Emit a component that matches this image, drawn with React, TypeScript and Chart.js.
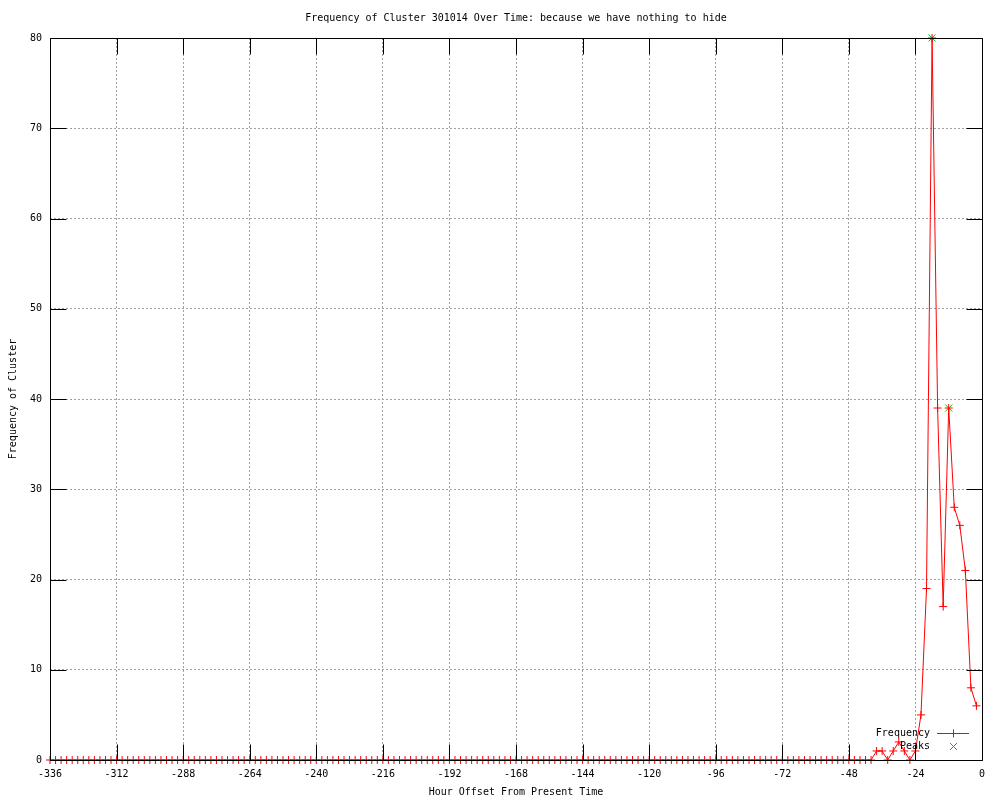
import React, { useEffect, useRef } from 'react';
import { Chart, registerables } from 'chart.js';

Chart.register(...registerables);

const TITLE = 'Frequency of Cluster 301014 Over Time: because we have nothing to hide';
const X_TITLE = 'Hour Offset From Present Time';
const Y_TITLE = 'Frequency of Cluster';

const hours = [
  -336, -334, -332, -330, -328, -326, -324, -322, -320, -318, -316, -314,
  -312, -310, -308, -306, -304, -302, -300, -298, -296, -294, -292, -290,
  -288, -286, -284, -282, -280, -278, -276, -274, -272, -270, -268, -266,
  -264, -262, -260, -258, -256, -254, -252, -250, -248, -246, -244, -242,
  -240, -238, -236, -234, -232, -230, -228, -226, -224, -222, -220, -218,
  -216, -214, -212, -210, -208, -206, -204, -202, -200, -198, -196, -194,
  -192, -190, -188, -186, -184, -182, -180, -178, -176, -174, -172, -170,
  -168, -166, -164, -162, -160, -158, -156, -154, -152, -150, -148, -146,
  -144, -142, -140, -138, -136, -134, -132, -130, -128, -126, -124, -122,
  -120, -118, -116, -114, -112, -110, -108, -106, -104, -102, -100, -98,
  -96, -94, -92, -90, -88, -86, -84, -82, -80, -78, -76, -74,
  -72, -70, -68, -66, -64, -62, -60, -58, -56, -54, -52, -50,
  -48, -46, -44, -42, -40, -38, -36, -34, -32, -30, -28, -26,
  -24, -22, -20, -18, -16, -14, -12, -10, -8, -6, -4, -2,
];

const frequency = [
  0, 0, 0, 0, 0, 0, 0, 0, 0, 0, 0, 0,
  0, 0, 0, 0, 0, 0, 0, 0, 0, 0, 0, 0,
  0, 0, 0, 0, 0, 0, 0, 0, 0, 0, 0, 0,
  0, 0, 0, 0, 0, 0, 0, 0, 0, 0, 0, 0,
  0, 0, 0, 0, 0, 0, 0, 0, 0, 0, 0, 0,
  0, 0, 0, 0, 0, 0, 0, 0, 0, 0, 0, 0,
  0, 0, 0, 0, 0, 0, 0, 0, 0, 0, 0, 0,
  0, 0, 0, 0, 0, 0, 0, 0, 0, 0, 0, 0,
  0, 0, 0, 0, 0, 0, 0, 0, 0, 0, 0, 0,
  0, 0, 0, 0, 0, 0, 0, 0, 0, 0, 0, 0,
  0, 0, 0, 0, 0, 0, 0, 0, 0, 0, 0, 0,
  0, 0, 0, 0, 0, 0, 0, 0, 0, 0, 0, 0,
  0, 0, 0, 0, 0, 1, 1, 0, 1, 2, 1, 0,
  1, 5, 19, 80, 39, 17, 39, 28, 26, 21, 8, 6,
];

const peakHours = [-18, -12];
const peakValues = [80, 39];

const X_MIN = -336;
const X_MAX = 0;
const X_STEP = 24;
const Y_MIN = 0;
const Y_MAX = 80;
const Y_STEP = 10;

const FAMILY = '"DejaVu Sans Mono", "Liberation Mono", monospace';
const FONT = { family: FAMILY, size: 10 };
const RED = 'rgb(255, 0, 0)';
const GREEN = 'rgb(0, 192, 0)';
const GRID = '#a0a0a0';

const crisp = (v: number) => Math.round(v) + 0.5;

const framePlugin = {
  id: 'gnuplotFrame',
  afterDatasetsDraw(chart: any) {
    const { ctx, chartArea, scales } = chart;
    const { left, right, top, bottom } = chartArea;
    const xs = scales.x;
    const ys = scales.y;
    const TL = 16;
    ctx.save();
    ctx.setLineDash([]);
    ctx.strokeStyle = '#000000';
    ctx.lineWidth = 1;
    const L = crisp(left);
    const R = crisp(right);
    const T = crisp(top);
    const B = crisp(bottom);
    ctx.beginPath();
    ctx.rect(L, T, R - L, B - T);
    for (const t of xs.ticks) {
      const px = crisp(xs.getPixelForValue(t.value));
      ctx.moveTo(px, B);
      ctx.lineTo(px, B - TL);
      ctx.moveTo(px, T);
      ctx.lineTo(px, T + TL);
    }
    for (const t of ys.ticks) {
      const py = crisp(ys.getPixelForValue(t.value));
      ctx.moveTo(L, py);
      ctx.lineTo(L + TL, py);
      ctx.moveTo(R, py);
      ctx.lineTo(R - TL, py);
    }
    ctx.stroke();
    ctx.restore();
  },
  afterDraw(chart: any) {
    const { ctx, chartArea } = chart;
    const { left, right, bottom } = chartArea;
    const labels = chart.data.datasets.map((d: any) => d.label);
    const y1 = Math.round(bottom - 27) + 0.5;
    const y2 = Math.round(bottom - 14) + 0.5;
    const textX = right - 52;
    const markX = Math.round(right - 29) + 0.5;

    ctx.save();
    ctx.setLineDash([]);
    ctx.font = `10px ${FAMILY}`;
    ctx.fillStyle = '#000000';
    ctx.textAlign = 'right';
    ctx.textBaseline = 'middle';
    ctx.fillText(labels[0], textX, y1);
    ctx.fillText(labels[1], textX, y2);
    ctx.textAlign = 'center';
    ctx.fillText(TITLE, (left + right) / 2, 18);
    ctx.restore();

    ctx.save();
    ctx.setLineDash([]);
    ctx.lineWidth = 1;
    ctx.strokeStyle = RED;
    ctx.beginPath();
    ctx.moveTo(right - 45, y1);
    ctx.lineTo(right - 13, y1);
    ctx.moveTo(markX - 4, y1);
    ctx.lineTo(markX + 4, y1);
    ctx.moveTo(markX, y1 - 4);
    ctx.lineTo(markX, y1 + 4);
    ctx.stroke();
    ctx.restore();

    ctx.save();
    ctx.setLineDash([]);
    ctx.lineWidth = 1;
    ctx.strokeStyle = GREEN;
    ctx.beginPath();
    ctx.moveTo(markX - 3.5, y2 - 3.5);
    ctx.lineTo(markX + 3.5, y2 + 3.5);
    ctx.moveTo(markX - 3.5, y2 + 3.5);
    ctx.lineTo(markX + 3.5, y2 - 3.5);
    ctx.stroke();
    ctx.restore();
  },
};

export default function App() {
  const canvasRef = useRef<HTMLCanvasElement | null>(null);

  useEffect(() => {
    const canvas = canvasRef.current;
    if (!canvas) return;
    const freqData = hours.map((h, i) => ({ x: h, y: frequency[i] }));
    const peakData = peakHours.map((h, i) => ({ x: h, y: peakValues[i] }));
    const chart = new Chart(canvas, {
      type: 'line',
      data: {
        datasets: [
          {
            label: 'Frequency',
            data: freqData,
            borderColor: RED,
            backgroundColor: RED,
            borderWidth: 1,
            pointStyle: 'cross',
            pointRadius: 4,
            pointBorderColor: RED,
            pointBorderWidth: 1,
            tension: 0,
            fill: false,
            clip: false,
          },
          {
            label: 'Peaks',
            data: peakData,
            showLine: false,
            borderColor: GREEN,
            backgroundColor: GREEN,
            pointStyle: 'crossRot',
            pointRadius: 5,
            pointBorderColor: GREEN,
            pointBorderWidth: 1,
            clip: false,
          },
        ],
      } as any,
      options: {
        responsive: false,
        animation: false,
        devicePixelRatio: 1,
        layout: { padding: { top: 38, right: 18, left: 0, bottom: 0 } },
        plugins: {
          legend: { display: false },
          title: { display: false },
          tooltip: { enabled: false },
        },
        scales: {
          x: {
            type: 'linear',
            min: X_MIN,
            max: X_MAX,
            ticks: {
              stepSize: X_STEP,
              autoSkip: false,
              maxRotation: 0,
              minRotation: 0,
              padding: 8,
              color: '#000',
              font: FONT,
              callback: (v: any) => String(v),
            },
            grid: { color: GRID, lineWidth: 1, drawTicks: false },
            border: { display: false, dash: [2, 2] },
            title: {
              display: true,
              text: X_TITLE,
              color: '#000',
              font: FONT,
              padding: { top: 0, bottom: 2 },
            },
            afterFit: (s: any) => {
              s.height = 40;
            },
          },
          y: {
            type: 'linear',
            min: Y_MIN,
            max: Y_MAX,
            ticks: {
              stepSize: Y_STEP,
              padding: 8,
              color: '#000',
              font: FONT,
              callback: (v: any) => String(v),
            },
            grid: { color: GRID, lineWidth: 1, drawTicks: false },
            border: { display: false, dash: [2, 2] },
            title: {
              display: true,
              text: Y_TITLE,
              color: '#000',
              font: FONT,
              padding: { top: 7, bottom: 0 },
            },
            afterFit: (s: any) => {
              s.width = 50;
            },
          },
        },
      } as any,
      plugins: [framePlugin],
    });
    return () => chart.destroy();
  }, []);

  return (
    <div style={{ position: 'absolute', left: 0, top: 0, width: 1000, height: 800, background: '#fff' }}>
      <canvas ref={canvasRef} width={1000} height={800} style={{ display: 'block', width: 1000, height: 800 }} />
    </div>
  );
}
